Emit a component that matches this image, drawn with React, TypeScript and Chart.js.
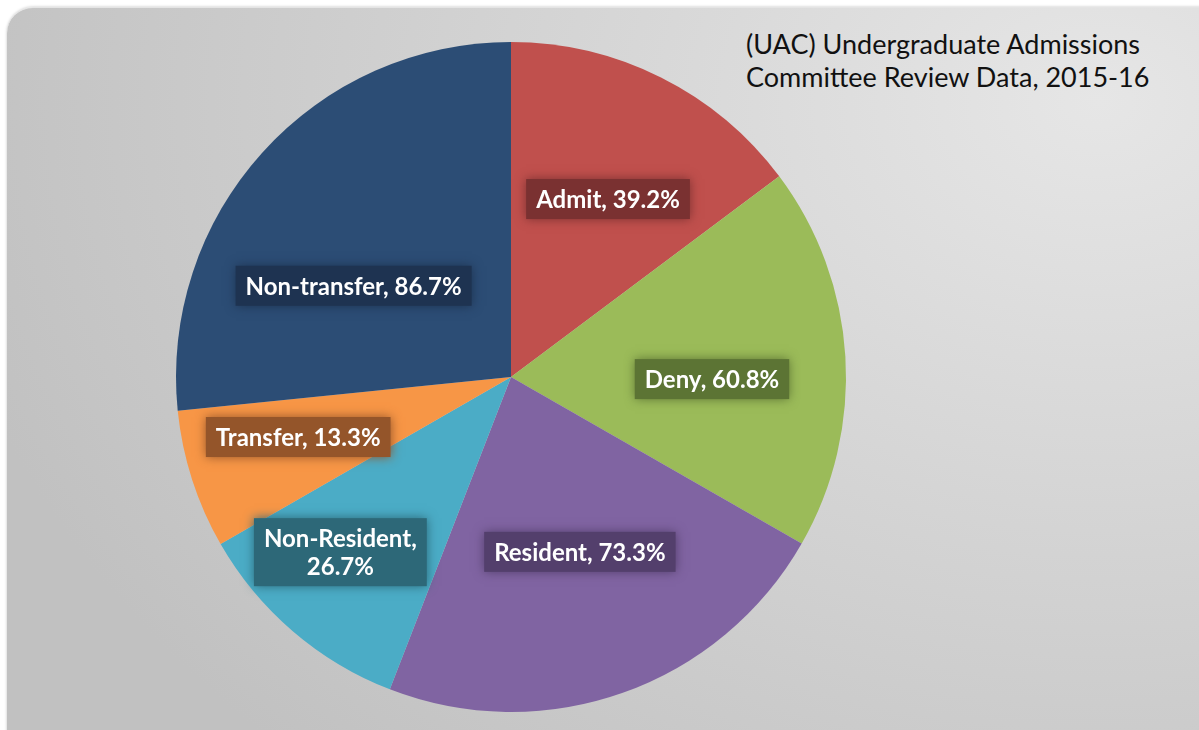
import React, { useEffect, useRef } from "react";
import { Chart, registerables } from "chart.js";

Chart.register(...registerables);

// ---- data ----
const categories = ["Admit", "Deny", "Resident", "Non-Resident", "Transfer", "Non-transfer"];
// slice sizes as drawn (degrees of the pie)
const sliceValues = [53.2, 66.6, 81.4, 38.9, 24.1, 95.8];
const percentLabels = ["39.2%", "60.8%", "73.3%", "26.7%", "13.3%", "86.7%"];
const titleLines = ["(UAC) Undergraduate Admissions", "Committee Review Data, 2015-16"];

// ---- styles ----
const sliceColors = ["#C0504D", "#9BBB59", "#8064A2", "#4BACC6", "#F79646", "#2C4D75"];
const labelBoxColors = ["#7A3131", "#5C7434", "#533F6C", "#2D6878", "#94552A", "#1E3351"];
const labelAngleOffsetDeg = [2.0, 4.1, -2.0, 3.6, 2.1, -12];
const labelRadiusFactor = [0.605, 0.6, 0.561, 0.73, 0.66, 0.543];
const labelWrap = [false, false, false, true, false, false];
const LABEL_FONT = "bold 24px Lato, 'Open Sans', sans-serif";

const labelPlugin = {
  id: "boxLabels",
  afterDatasetsDraw(chart: any) {
    const ctx = chart.ctx as CanvasRenderingContext2D;
    const meta = chart.getDatasetMeta(0);
    meta.data.forEach((arc: any, i: number) => {
      const p = arc.getProps(["x", "y", "startAngle", "endAngle", "outerRadius"], true);
      const mid = (p.startAngle + p.endAngle) / 2 + (labelAngleOffsetDeg[i] * Math.PI) / 180;
      const r = p.outerRadius * labelRadiusFactor[i];
      const cx = p.x + Math.cos(mid) * r;
      const cy = p.y + Math.sin(mid) * r;
      const lines = labelWrap[i]
        ? [categories[i] + ",", percentLabels[i]]
        : [categories[i] + ", " + percentLabels[i]];
      ctx.save();
      ctx.font = LABEL_FONT;
      const w = Math.max(...lines.map((l) => ctx.measureText(l).width));
      const lh = 28;
      const bw = w + 20;
      const bh = lines.length * lh + 12;
      ctx.shadowColor = labelBoxColors[i];
      ctx.shadowBlur = 10;
      ctx.fillStyle = labelBoxColors[i];
      ctx.fillRect(cx - bw / 2, cy - bh / 2, bw, bh);
      ctx.shadowBlur = 0;
      ctx.shadowColor = "transparent";
      ctx.fillStyle = "#FFFFFF";
      ctx.textAlign = "center";
      ctx.textBaseline = "middle";
      lines.forEach((l, k) => {
        ctx.fillText(l, cx, cy - ((lines.length - 1) * lh) / 2 + k * lh + 1);
      });
      ctx.restore();
    });
  },
};

export default function App() {
  const ref = useRef<HTMLCanvasElement | null>(null);
  useEffect(() => {
    if (!ref.current) return;
    const chart = new Chart(ref.current, {
      type: "pie",
      data: {
        labels: categories,
        datasets: [
          {
            data: sliceValues,
            backgroundColor: sliceColors,
            borderWidth: 0,
          },
        ],
      },
      options: {
        responsive: false,
        animation: false,
        devicePixelRatio: 1,
        layout: { padding: { top: 42, bottom: 18, left: 176, right: 353 } },
        plugins: {
          legend: { display: false },
          tooltip: { enabled: false },
          title: { display: false },
        },
      },
      plugins: [labelPlugin],
    });
    return () => chart.destroy();
  }, []);

  return (
    <div
      style={{
        position: "fixed",
        left: 0,
        top: 0,
        width: 1199,
        height: 730,
        overflow: "hidden",
        background: "#ffffff",
      }}
    >
      <div
        style={{
          position: "absolute",
          left: 7,
          top: 7,
          width: 1240,
          height: 780,
          borderRadius: 26,
          background:
            "radial-gradient(ellipse 95% 115% at 88% 12%, #e6e6e6 0%, #d5d5d5 45%, #c1c1c1 100%)",
          boxShadow: "0 0 3px rgba(0,0,0,0.25)",
          borderTop: "1px solid #e4e4e4",
        }}
      />
      <div
        style={{
          position: "absolute",
          left: 746,
          top: 27,
          fontFamily: "Lato, 'Open Sans', sans-serif",
          fontSize: 27,
          lineHeight: "33px",
          color: "#111",
          whiteSpace: "nowrap",
        }}
      >
        {titleLines.map((t) => (
          <div key={t}>{t}</div>
        ))}
      </div>
      <canvas
        ref={ref}
        width={1199}
        height={730}
        style={{ position: "absolute", left: 0, top: 0, width: 1199, height: 730 }}
      />
    </div>
  );
}
